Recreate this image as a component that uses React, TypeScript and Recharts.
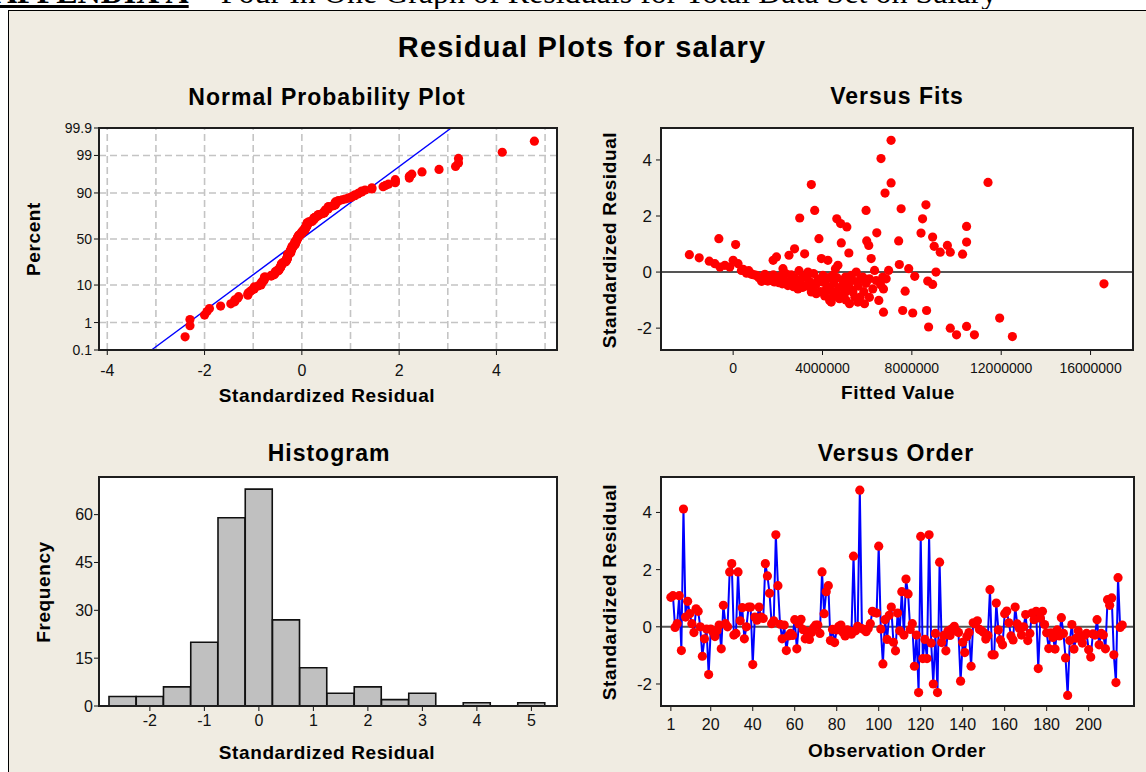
import React from 'react';
import { ScatterChart, Scatter, BarChart, Bar, XAxis, YAxis, ReferenceLine } from 'recharts';

const FONT = '"Liberation Sans", Arial, sans-serif';
const BG = '#f0ece2';

// standardized residuals in observation order (1..216)
const residuals = [
  1.03, 1.09, -0.02, 0.11, 1.09, -0.83, 4.12, 0.34, 0.89, 0.46,
  0.11, -0.2, 0.63, 0.54, 0.0, -1.03, -0.42, -0.08, -1.67, -0.08,
  -0.17, -0.34, -0.14, 0.06, -0.77, 0.75, 0.11, 0.0, 1.92, 2.21,
  -0.29, -0.23, 1.92, 0.21, 0.67, -0.42, 0.0, 0.69, 0.69, -1.32,
  0.34, 0.23, 0.69, 0.34, 0.29, 2.21, 1.78, 1.17, 0.11, 0.21,
  3.22, 1.44, 0.09, -0.42, 0.06, -0.83, -0.32, -0.23, -0.3, 0.25,
  -0.77, 0.1, 0.26, -0.1, -0.42, -0.17, -0.44, -0.2, -0.03, 0.06,
  0.06, -0.23, 1.92, 0.46, 1.23, 1.44, -0.48, -0.09, -0.55, -0.11,
  0.02, 0.06, -0.2, -0.32, -0.11, -0.14, -0.26, 2.47, -0.14, 0.02,
  4.78, -0.06, -0.1, -0.17, -0.06, 0.11, 0.54, 0.5, 0.48, 2.82,
  -0.08, -1.3, 0.25, -0.44, 0.4, 0.69, -0.54, -0.84, 0.48, -0.14,
  1.23, -0.29, 1.67, 1.15, -0.09, 0.11, -1.38, -0.29, -2.3, 3.16,
  -1.11, -0.44, -1.11, 3.22, -0.57, -2.0, -0.23, -2.3, 2.26, -0.55,
  -0.3, -0.84, -0.14, -0.3, -0.06, 0.02, -0.14, -0.2, -1.9, -0.54,
  -0.9, -0.34, -0.2, -1.38, 0.14, 0.1, 0.21, -0.09, -0.14, -0.2,
  -0.43, -0.3, 1.3, -0.98, -0.98, 0.83, -0.11, -0.46, -0.63, 0.46,
  0.55, 0.14, -0.32, -0.46, 0.69, 0.1, -0.06, -0.29, 0.0, 0.43,
  -0.48, -0.23, 0.48, 0.25, 0.54, -1.46, 0.3, 0.54, 0.08, -0.21,
  -0.76, -0.21, -0.37, -0.78, -0.11, -0.32, 0.32, -0.23, -1.09, -2.4,
  -0.48, 0.08, -0.78, -0.4, -0.14, -0.4, -0.57, -0.3, -0.23, -0.8,
  -1.06, -0.25, -0.29, 0.25, -0.63, -0.23, -0.29, -0.77, 0.95, 0.75,
  1.01, -0.98, -1.95, 1.72, -0.02, 0.06,
];

// versus fits: [fitted value in millions, standardized residual]
const fitsVsResid: [number, number][] = [
  [-1.96, 0.62], [-1.52, 0.51], [-1.07, 0.39], [-0.82, 0.3], [-0.64, 1.19], [-0.59, 0.18],
  [-0.37, 0.24], [-0.15, 0.18], [0, 0.42], [0.11, 0.98], [0.22, 0.3], [0.37, 0.06],
  [0.6, -0.04], [0.82, -0.08], [1.27, -0.33], [1.42, -0.08], [1.64, -0.18], [1.79, 0.42],
  [1.94, 0.54], [2.08, -0.3], [2.23, 0.12], [2.38, -0.42], [2.5, 0.6], [2.65, -0.18],
  [2.75, 0.83], [2.83, -0.54], [2.98, 1.93], [3.05, -0.24], [3.2, 0.65], [3.35, 0],
  [3.5, 3.12], [3.5, -0.71], [3.65, 2.2], [3.72, -0.77], [3.84, 1.19], [3.95, 0.48],
  [4.02, -0.12], [4.14, -0.65], [4.24, 0.42], [4.32, -1.01], [4.39, -1.07], [4.46, -0.12],
  [4.58, 0.12], [4.64, 1.9], [4.69, 0.24], [4.76, -0.95], [4.81, 1.73], [4.84, 1.04],
  [4.91, -0.54], [5.03, -0.18], [5.09, 1.61], [5.18, 0.68], [5.21, -1.13], [5.29, -0.12],
  [5.36, -0.71], [5.51, 0], [5.58, -1.07], [5.69, -0.89], [5.8, -0.18], [5.88, -1.13],
  [5.95, 2.2], [5.98, 1.11], [6.07, 0.95], [6.1, -0.24], [6.18, 0.48], [6.33, 0.06],
  [6.43, 1.4], [6.52, -1.01], [6.62, 4.05], [6.7, -0.18], [6.73, -0.6], [6.73, -1.43],
  [6.8, 2.82], [6.85, -0.24], [6.96, 0.06], [7.07, 4.7], [7.07, 3.18], [7.41, 1.11],
  [7.44, 0.27], [7.52, 2.26], [7.59, -1.37], [7.7, -0.68], [7.86, 0.12], [8.04, -1.46],
  [8.13, -0.15], [8.41, 1.39], [8.48, 1.9], [8.63, 2.4], [8.66, -1.37], [8.71, -0.32],
  [8.75, -1.96], [8.93, 1.25], [8.93, -0.44], [9.0, 0.92], [9.08, 0], [9.27, 0.71],
  [9.59, 0.95], [9.72, 0.71], [9.72, -2.0], [10.0, -2.24], [10.27, 0.64], [10.45, 1.63],
  [10.45, 1.07], [10.45, -1.94], [10.8, -2.24], [11.41, 3.2], [11.93, -1.64], [12.5, -2.3],
  [16.6, -0.42],
  // dense band
  [0.45, 0.1], [0.55, 0.02], [0.7, 0.05], [0.8, -0.05], [0.95, -0.1], [1.05, -0.12],
  [1.15, -0.2], [1.3, -0.22], [1.4, -0.28], [1.5, -0.2], [1.55, -0.32], [1.7, -0.3],
  [1.8, -0.1], [1.85, -0.35], [1.95, -0.25], [2.05, -0.38], [2.1, -0.15], [2.2, -0.42],
  [2.3, -0.3], [2.35, -0.05], [2.45, -0.48], [2.55, -0.35], [2.6, -0.1], [2.7, -0.52],
  [2.75, -0.2], [2.85, -0.4], [2.9, -0.6], [2.95, 0.05], [3.0, -0.3], [3.1, -0.55],
  [3.15, -0.15], [3.25, -0.5], [3.3, -0.2], [3.45, -0.35], [3.55, -0.6], [3.6, -0.05],
  [3.7, -0.45], [3.8, -0.25], [3.9, -0.7], [4.0, -0.35], [4.1, -0.85], [4.2, -0.5],
  [4.25, -0.2], [4.35, -0.65], [4.45, -0.9], [4.5, -0.4], [4.6, -0.7], [4.65, -0.2],
  [4.75, -0.55], [4.8, -0.85], [4.9, -0.3], [5.0, -0.75], [5.05, -1.0], [5.15, -0.45],
  [5.25, -0.6], [5.35, -0.3], [5.45, -0.9], [5.6, -0.5], [5.7, -0.25], [5.85, -0.7],
  [5.95, -0.4], [6.1, -0.9], [6.25, -0.6], [6.4, -0.3], [6.6, -0.45],
];

// histogram bins (midpoints) and frequencies
const histMids = [-2.5, -2, -1.5, -1, -0.5, 0, 0.5, 1, 1.5, 2, 2.5, 3, 3.5, 4, 4.5, 5];
const histCounts = [3, 3, 6, 20, 59, 68, 27, 12, 4, 6, 2, 4, 0, 1, 0, 1];

// axis ticks
const npPercentTicks = [0.1, 1, 10, 50, 90, 99, 99.9];
const npXTicks = [-4, -2, 0, 2, 4];
const npGridX = [-4, -3, -2, -1, 0, 1, 2, 3, 4, 5];
const npFitLine = [{ x: -3.09, p: 0.1 }, { x: 3.07, p: 99.9 }];
const fitsXTicks = [0, 4000000, 8000000, 12000000, 16000000];
const residTicks = [-2, 0, 2, 4];
const freqTicks = [0, 15, 30, 45, 60];
const orderTicks = [1, 20, 40, 60, 80, 100, 120, 140, 160, 180, 200];

// inverse standard normal cdf (probability-paper scale)
function probit(p: number): number {
  const a = [-39.69683028665376, 220.9460984245205, -275.9285104469687, 138.357751867269, -30.66479806614716, 2.506628277459239];
  const b = [-54.47609879822406, 161.5858368580409, -155.6989798598866, 66.80131188771972, -13.28068155288572];
  const c = [-0.007784894002430293, -0.3223964580411365, -2.400758277161838, -2.549732539343734, 4.374664141464968, 2.938163982698783];
  const d = [0.007784695709041462, 0.3224671290700398, 2.445134137142996, 3.754408661907416];
  const lo = 0.02425;
  if (p < lo || p > 1 - lo) {
    const q = Math.sqrt(-2 * Math.log(p < lo ? p : 1 - p));
    const v = (((((c[0] * q + c[1]) * q + c[2]) * q + c[3]) * q + c[4]) * q + c[5]) /
      ((((d[0] * q + d[1]) * q + d[2]) * q + d[3]) * q + 1);
    return p < lo ? v : -v;
  }
  const q = p - 0.5;
  const r = q * q;
  return (((((a[0] * r + a[1]) * r + a[2]) * r + a[3]) * r + a[4]) * r + a[5]) * q /
    (((((b[0] * r + b[1]) * r + b[2]) * r + b[3]) * r + b[4]) * r + 1);
}

const npTickZ = npPercentTicks.map((p) => probit(p / 100));
const npZDomain = [probit(0.001), probit(0.999)];
const npLabel = (z: number) => {
  let best = 0;
  npTickZ.forEach((t, i) => { if (Math.abs(t - z) < Math.abs(npTickZ[best] - z)) best = i; });
  return String(npPercentTicks[best]);
};

// normal scores with median ranks (i - 0.3) / (n + 0.4)
const sorted = [...residuals].sort((a, b) => a - b);
const npPoints = sorted.map((x, i) => ({ x, y: probit((i + 1 - 0.3) / (sorted.length + 0.4)) }));
const npLine = npFitLine.map((d) => ({ x: d.x, y: probit(d.p / 100) }));
const fitsPoints = fitsVsResid.map(([f, r]) => ({ x: f * 1000000, y: r }));
const orderPoints = residuals.map((r, i) => ({ x: i + 1, y: r }));
const histData = histMids.map((mid, i) => ({ mid, count: histCounts[i] }));

const NP = { left: 99, top: 128, width: 458, height: 222 };
const VF = { left: 661, top: 128, width: 472, height: 222 };
const HI = { left: 99, top: 477, width: 458, height: 229 };
const VO = { left: 661, top: 477, width: 473, height: 229 };
const YW = 60;
const XH = 40;
const MT = 12; // room above the plot for the top tick label
const MARGIN = { top: MT, right: 0, bottom: 0, left: 0 };

const RedDot = (p: any) => <circle cx={p.cx} cy={p.cy} r={4.6} fill="#ff0000" />;
const NoDot = () => <g />;

const tickStyle = (size: number) => ({ fontSize: size, fill: '#111', fontFamily: FONT });

const Text = ({ x, y, size, children, rotate, bold = true, spacing = 0.6 }: any) => (
  <div
    style={{
      position: 'absolute', left: x, top: y, whiteSpace: 'nowrap', lineHeight: 1,
      fontFamily: FONT, fontSize: size, fontWeight: bold ? 700 : 400, letterSpacing: spacing,
      color: '#000', transform: `translate(-50%, -50%)${rotate ? ' rotate(-90deg)' : ''}`,
    }}
  >
    {children}
  </div>
);

const PlotBack = ({ p }: any) => (
  <div style={{ position: 'absolute', left: p.left, top: p.top, width: p.width, height: p.height, background: '#fff' }} />
);
const PlotFrame = ({ p }: any) => (
  <div
    style={{
      position: 'absolute', left: p.left - 1, top: p.top - 1, width: p.width + 2, height: p.height + 2,
      border: '2px solid #1e1e1e', boxSizing: 'border-box', pointerEvents: 'none',
    }}
  />
);
const at = (p: any) => ({ position: 'absolute' as const, left: p.left - YW, top: p.top - MT });

const HistTick = (props: any) => {
  const { x, y, payload } = props;
  const v = Number(payload.value);
  if (!Number.isInteger(v)) return <g />;
  return (
    <g>
      <line x1={x} x2={x} y1={y - 8} y2={y - 3} stroke="#111" />
      <text x={x} y={y + 12} textAnchor="middle" fontSize={16} fill="#111" fontFamily={FONT}>{v}</text>
    </g>
  );
};

export default function App() {
  return (
    <div style={{ position: 'absolute', left: 0, top: 0, width: 1146, height: 772, background: '#fff', overflow: 'hidden' }}>
      <div style={{ position: 'absolute', left: 0, top: 0, width: 1146, height: 9, overflow: 'hidden' }}>
        <div style={{ position: 'absolute', left: -6, top: -24, whiteSpace: 'nowrap', fontFamily: '"Liberation Serif", serif', fontSize: 32, lineHeight: '32px' }}>
          <b style={{ textDecoration: 'underline' }}>APPENDIX A</b> – Four In One Graph of Residuals for Total Data Set on Salary
        </div>
      </div>
      <div style={{ position: 'absolute', left: 8, top: 10, width: 1150, height: 770, background: BG, borderLeft: '1px solid #000', borderTop: '1px solid #000' }} />

      <Text x={582} y={47} size={29} spacing={1.2}>Residual Plots for salary</Text>

      {/* Normal probability plot */}
      <Text x={327} y={97} size={23} spacing={1}>Normal Probability Plot</Text>
      <Text x={327} y={395} size={19}>Standardized Residual</Text>
      <Text x={33} y={239} size={19} rotate>Percent</Text>
      <PlotBack p={NP} />
      <div style={at(NP)}>
        <ScatterChart width={YW + NP.width} height={MT + NP.height + XH} margin={MARGIN}>
          <XAxis type="number" dataKey="x" domain={[-4.17, 5.245]} ticks={npXTicks} interval={0} height={XH}
            axisLine={false} tickSize={5} tickMargin={10} tickLine={{ stroke: '#111' }} tick={tickStyle(16)} />
          <YAxis type="number" dataKey="y" domain={npZDomain} ticks={npTickZ} interval={0} width={YW}
            axisLine={false} tickSize={5} tickMargin={2} tickLine={{ stroke: '#111' }} tick={tickStyle(14)}
            tickFormatter={npLabel} />
          {npGridX.map((v) => (
            <ReferenceLine key={`gx${v}`} x={v} stroke="#c4c4c4" strokeWidth={1.6} strokeDasharray="7 4" />
          ))}
          {npTickZ.map((v, i) => (
            <ReferenceLine key={`gy${i}`} y={v} stroke="#c4c4c4" strokeWidth={1.6} strokeDasharray="7 4" />
          ))}
          <Scatter data={npLine} line={{ stroke: '#0000ff', strokeWidth: 1.5 }} shape={NoDot} isAnimationActive={false} />
          <Scatter data={npPoints} shape={RedDot} isAnimationActive={false} />
        </ScatterChart>
      </div>
      <PlotFrame p={NP} />

      {/* Versus fits */}
      <Text x={897} y={96} size={23} spacing={1}>Versus Fits</Text>
      <Text x={898} y={392} size={19}>Fitted Value</Text>
      <Text x={609} y={240} size={19} rotate>Standardized Residual</Text>
      <PlotBack p={VF} />
      <div style={at(VF)}>
        <ScatterChart width={YW + VF.width} height={MT + VF.height + XH} margin={MARGIN}>
          <XAxis type="number" dataKey="x" domain={[-3230000, 17900000]} ticks={fitsXTicks} interval={0} height={XH}
            axisLine={false} tickSize={5} tickMargin={8} tickLine={{ stroke: '#111' }} tick={tickStyle(14)}
            tickFormatter={(v: number) => String(v)} />
          <YAxis type="number" dataKey="y" domain={[-2.78, 5.14]} ticks={residTicks} interval={0} width={YW}
            axisLine={false} tickSize={5} tickMargin={4} tickLine={{ stroke: '#111' }} tick={tickStyle(17)} />
          <ReferenceLine y={0} stroke="#555" strokeWidth={2} />
          <Scatter data={fitsPoints} shape={RedDot} isAnimationActive={false} />
        </ScatterChart>
      </div>
      <PlotFrame p={VF} />

      {/* Histogram */}
      <Text x={329} y={453} size={23} spacing={1}>Histogram</Text>
      <Text x={327} y={752} size={19}>Standardized Residual</Text>
      <Text x={43} y={592} size={19} rotate>Frequency</Text>
      <PlotBack p={HI} />
      <div style={at(HI)}>
        <BarChart width={YW + HI.width} height={MT + HI.height + XH} data={histData} barCategoryGap={0} barGap={0}
          margin={MARGIN}>
          <XAxis dataKey="mid" type="category" padding={{ left: 10, right: 12 }} interval={0} height={XH}
            axisLine={false} tickLine={false} tick={(p: any) => <HistTick {...p} />} />
          <YAxis type="number" domain={[0, 71.8]} ticks={freqTicks} interval={0} width={YW}
            axisLine={false} tickSize={5} tickMargin={1} tickLine={{ stroke: '#111' }} tick={tickStyle(16)} />
          <Bar dataKey="count" fill="#c0c0c0" stroke="#111" strokeWidth={1.6} isAnimationActive={false} />
        </BarChart>
      </div>
      <PlotFrame p={HI} />

      {/* Versus order */}
      <Text x={896} y={453} size={23} spacing={1}>Versus Order</Text>
      <Text x={897} y={750} size={19}>Observation Order</Text>
      <Text x={609} y={592} size={19} rotate>Standardized Residual</Text>
      <PlotBack p={VO} />
      <div style={at(VO)}>
        <ScatterChart width={YW + VO.width} height={MT + VO.height + XH} margin={MARGIN}>
          <XAxis type="number" dataKey="x" domain={[-3.7, 221.6]} ticks={orderTicks} interval={0} height={XH}
            axisLine={false} tickSize={5} tickMargin={8} tickLine={{ stroke: '#111' }} tick={tickStyle(16)} />
          <YAxis type="number" dataKey="y" domain={[-2.77, 5.24]} ticks={residTicks} interval={0} width={YW}
            axisLine={false} tickSize={5} tickMargin={4} tickLine={{ stroke: '#111' }} tick={tickStyle(17)} />
          <ReferenceLine y={0} stroke="#555" strokeWidth={2} />
          <Scatter data={orderPoints} line={{ stroke: '#0000ff', strokeWidth: 2 }} shape={RedDot} isAnimationActive={false} />
        </ScatterChart>
      </div>
      <PlotFrame p={VO} />
    </div>
  );
}
